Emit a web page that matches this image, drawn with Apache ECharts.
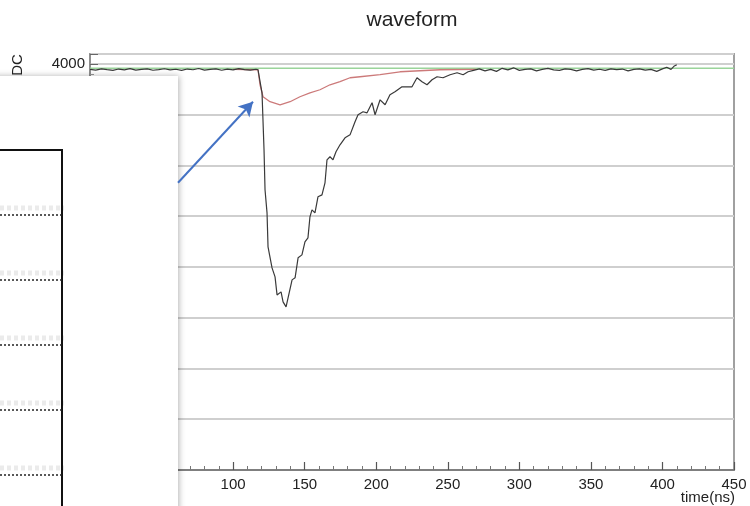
<!DOCTYPE html>
<html><head><meta charset="utf-8">
<script src="https://cdn.jsdelivr.net/npm/echarts@6/dist/echarts.min.js"></script>
<style>html,body{margin:0;padding:0;background:#fff}#c{width:750px;height:506px}</style>
</head><body><div id="c"></div>
<script>
const titleText = 'waveform';
const xName = 'time(ns)';
const yName = 'ADC';
const xTicks = [0, 450, 50];
const yTicks = [0, 4096, 500];

// black waveform (time in ns, ADC counts)
const waveTime = [0,4,8,12,16,20,24,28,32,36,40,44,48,52,56,60,64,68,72,76,80,84,88,92,96,100,104,108,112,116,
  117.4,120.2,121.6,122.3,123.7,124.4,127.2,129.3,130.7,133.5,134.9,137.0,138.4,141.2,143.3,145.4,148.1,150.2,152.3,153.7,155.1,157.2,159.3,162.1,164.2,165.6,167.7,169.8,171.9,174.7,178.2,181.7,185.2,187.3,190.8,193.6,197.1,199.2,202.7,206.2,209.6,213.1,218.0,221.5,225.0,228.5,232.0,235.5,239.0,242.5,246.7,251.6,256.5,260.7,264.2,
  268,272,276,280,284,288,292,296,300,304,308,312,316,320,324,328,332,336,340,344,348,352,356,360,364,368,372,376,380,384,388,392,396,400,403,406,408,410];
const waveAdc = [3945,3938,3950,3942,3935,3948,3940,3952,3937,3944,3949,3936,3943,3951,3939,3946,3934,3948,3941,3953,3938,3945,3950,3936,3947,3940,3952,3943,3937,3946,
  3941,3714,3153,2759,2532,2197,1990,1901,1724,1754,1655,1606,1695,1872,1892,2089,2118,2246,2286,2493,2562,2532,2690,2709,2828,3054,3084,3054,3133,3202,3271,3300,3429,3498,3527,3517,3616,3498,3645,3596,3695,3724,3773,3773,3773,3862,3823,3793,3842,3872,3862,3892,3911,3892,3921,
  3935,3950,3930,3945,3925,3955,3940,3960,3935,3945,3950,3930,3945,3955,3940,3935,3950,3945,3930,3945,3952,3938,3946,3935,3950,3942,3948,3930,3944,3950,3938,3945,3925,3950,3965,3945,3975,3990];

// red fitted / average pulse
const fitTime = [100,117.4,118.8,120.9,125.8,132.8,139.8,146.7,153.7,160.7,167.7,174.7,181.7,188.7,202.7,216.6,230.6,244.6,270];
const fitAdc  = [3945,3941,3793,3675,3626,3596,3626,3675,3714,3744,3793,3823,3862,3872,3892,3921,3931,3941,3945];

// green baseline
const baseTime = [0, 450];
const baseAdc  = [3955, 3955];

// arrow annotation (data coords)
const arrowFrom = [61.5, 2828];
const arrowTo   = [113.9, 3626];

const zip = (a, b) => a.map((v, i) => [v, b[i]]);
const font = 'Liberation Sans, Arial, sans-serif';

const chart = echarts.init(document.getElementById('c'));
chart.setOption({
  animation: false,
  backgroundColor: '#fff',
  grid: {left: 90, right: 16, top: 54, bottom: 36, show: true, borderColor: '#a0a0a0', borderWidth: 2},
  xAxis: {
    type: 'value', min: xTicks[0], max: xTicks[1], interval: xTicks[2],
    axisLine: {lineStyle: {color: '#666', width: 1.5}},
    axisTick: {inside: true, length: 8, lineStyle: {color: '#555', width: 1.2}},
    minorTick: {show: true, splitNumber: 5, length: 4, lineStyle: {color: '#777'}},
    splitLine: {show: false},
    axisLabel: {margin: 7, fontFamily: font, fontSize: 15, color: '#222', formatter: v => String(v)}
  },
  yAxis: {
    type: 'value', min: yTicks[0], max: yTicks[1], interval: yTicks[2],
    axisLine: {show: true, lineStyle: {color: '#888', width: 1.5}},
    axisTick: {inside: true, length: 8, lineStyle: {color: '#666'}},
    minorTick: {show: true, splitNumber: 5, length: 4, lineStyle: {color: '#999'}},
    splitLine: {show: true, lineStyle: {color: '#cfcfcf', width: 2}},
    axisLabel: {margin: 5, fontFamily: font, fontSize: 15, color: '#222', showMaxLabel: false, formatter: v => String(v)}
  },
  series: [
    {type: 'line', data: zip(baseTime, baseAdc), symbol: 'none', z: 2,
      lineStyle: {color: '#9ad49a', width: 1.5}},
    {type: 'line', data: zip(fitTime, fitAdc), symbol: 'none', z: 3,
      lineStyle: {color: '#cc7a7a', width: 1.3}},
    {type: 'line', data: zip(waveTime, waveAdc), symbol: 'none', z: 4,
      lineStyle: {color: '#3a3a3a', width: 1.2}},
    {type: 'line', data: [], z: 300, zlevel: 1,
      markLine: {
        silent: true, z: 300, symbol: ['none', 'arrow'], symbolSize: [12, 14],
        label: {show: false},
        lineStyle: {color: '#4472c4', width: 2, type: 'solid'},
        data: [[{coord: arrowFrom}, {coord: arrowTo}]]
      }}
  ],
  graphic: [
    {type: 'text', z: 1, x: 412, y: 10,
      style: {text: titleText, font: '21px ' + font, fill: '#222', textAlign: 'center', textVerticalAlign: 'top'}},
    {type: 'text', z: 1, x: 18, y: 70, rotation: Math.PI / 2,
      style: {text: yName, font: '15px ' + font, fill: '#222', textAlign: 'center', textVerticalAlign: 'middle'}},
    {type: 'text', z: 1, x: 735, y: 490,
      style: {text: xName, font: '15px ' + font, fill: '#222', textAlign: 'right', textVerticalAlign: 'top'}},
    {type: 'rect', z: 100, shape: {x: -10, y: 76, width: 188, height: 440},
      style: {fill: '#fff', shadowBlur: 6, shadowColor: 'rgba(0,0,0,0.3)', shadowOffsetX: 1}},
    {type: 'polyline', z: 101, shape: {points: [[0, 150], [62, 150], [62, 506]]},
      style: {stroke: '#111', lineWidth: 2, fill: null}},
    ...[215, 280, 345, 410, 475].flatMap(y => [
      {type: 'line', z: 101, shape: {x1: 0, y1: y - 7, x2: 64, y2: y - 7},
        style: {stroke: '#ebebeb', lineWidth: 5, lineDash: [4, 3]}},
      {type: 'line', z: 102, shape: {x1: 0, y1: y, x2: 62, y2: y},
        style: {stroke: '#222', lineWidth: 1.5, lineDash: [2, 2]}}
    ])
  ]
});
</script></body></html>
